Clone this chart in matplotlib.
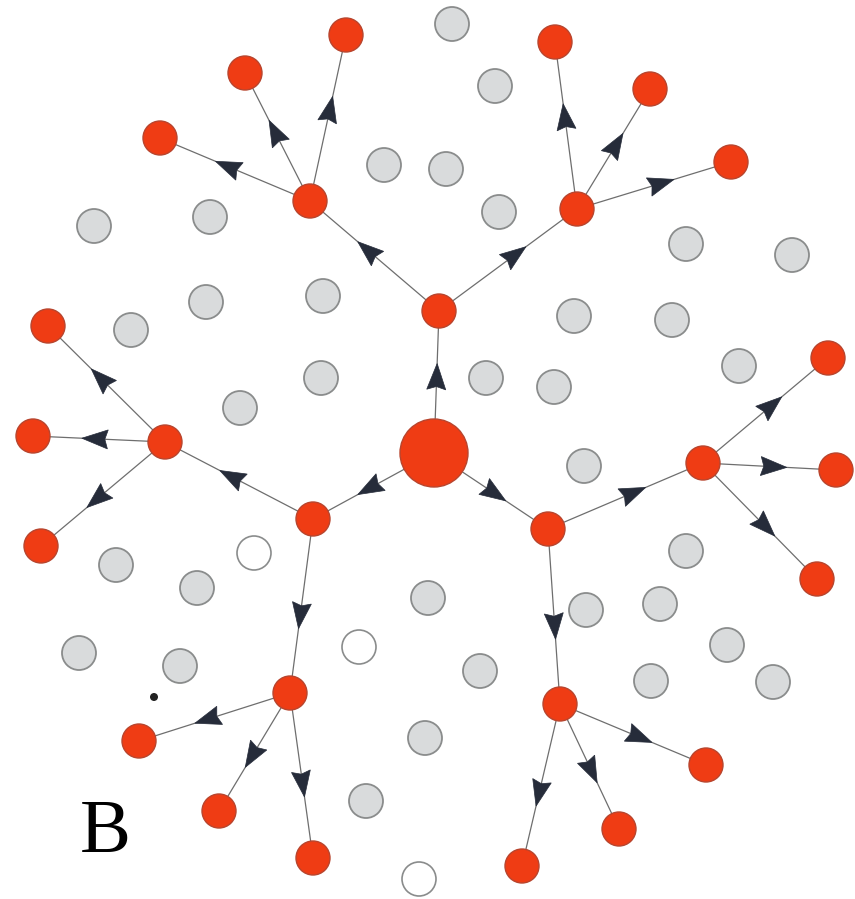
import matplotlib
matplotlib.use("Agg")
import matplotlib.pyplot as plt
from matplotlib.patches import Circle, Polygon
import numpy as np

# Node positions (image pixel coordinates, y downward)
center = (434, 453)
level1 = [(439, 311), (313, 519), (548, 529)]
level2 = [(310, 201), (577, 209), (165, 442), (290, 693), (703, 463), (560, 704)]
level2_parent = [0, 0, 1, 1, 2, 2]
leaves = [(160, 138), (245, 73), (346, 35),
          (555, 42), (650, 89), (731, 162),
          (48, 326), (33, 436), (41, 546),
          (139, 741), (219, 811), (313, 858),
          (828, 358), (836, 470), (817, 579),
          (706, 765), (619, 829), (522, 866)]
leaf_parent = [0, 0, 0, 1, 1, 1, 2, 2, 2, 3, 3, 3, 4, 4, 4, 5, 5, 5]

gray_nodes = [(452, 24), (495, 86), (384, 165), (446, 169), (499, 212), (94, 226),
              (210, 217), (686, 244), (792, 255), (206, 302), (323, 296), (131, 330),
              (574, 316), (672, 320), (321, 378), (486, 378), (554, 387), (739, 366),
              (240, 408), (584, 466), (116, 565), (197, 588), (686, 551), (428, 598),
              (586, 610), (660, 604), (79, 653), (180, 666), (480, 671), (727, 645),
              (651, 681), (773, 682), (425, 738), (366, 801)]
white_nodes = [(254, 553), (359, 647), (419, 879)]
small_dot = [(154, 697)]

W, H = 855, 899
fig = plt.figure(figsize=(W / 100, H / 100), dpi=100)
ax = fig.add_axes([0, 0, 1, 1])
ax.set_xlim(0, W)
ax.set_ylim(H, 0)
ax.set_aspect("equal")
ax.axis("off")

RED = "#ef3c14"
RED_EDGE = "#b8452e"
GRAY = "#d9dbdc"
GRAY_EDGE = "#8a8c8c"
ARROW = "#262c3a"
LINE = "#6e6e6e"

r_small = 17
r_big = 34

edges = []
for p in level1:
    edges.append((center, p))
for c, pi in zip(level2, level2_parent):
    edges.append((level1[pi], c))
for c, pi in zip(leaves, leaf_parent):
    edges.append((level2[pi], c))


def arrow_head(a, b, frac=0.63, L=26, Wd=19, notch=3):
    a = np.array(a, float)
    b = np.array(b, float)
    d = b - a
    u = d / np.linalg.norm(d)
    n = np.array([-u[1], u[0]])
    tip = a + frac * d
    base = tip - L * u
    p1 = base + n * Wd / 2
    p2 = base - n * Wd / 2
    pn = base + u * notch
    return [tip, p1, pn, p2]


for a, b in edges:
    ax.plot([a[0], b[0]], [a[1], b[1]], color=LINE, lw=0.9, zorder=1)
    ax.add_patch(Polygon(arrow_head(a, b), closed=True, facecolor=ARROW,
                         edgecolor=ARROW, lw=0.5, zorder=2))

for (x, y) in gray_nodes:
    ax.add_patch(Circle((x, y), r_small, facecolor=GRAY, edgecolor=GRAY_EDGE, lw=1.3, zorder=3))
for (x, y) in white_nodes:
    ax.add_patch(Circle((x, y), r_small, facecolor="white", edgecolor=GRAY_EDGE, lw=1.2, zorder=3))
for (x, y) in small_dot:
    ax.add_patch(Circle((x, y), 4, facecolor="#222222", edgecolor="none", zorder=3))

for (x, y) in level1 + level2 + leaves:
    ax.add_patch(Circle((x, y), r_small, facecolor=RED, edgecolor=RED_EDGE, lw=1.0, zorder=4))
ax.add_patch(Circle(center, r_big, facecolor=RED, edgecolor=RED_EDGE, lw=1.0, zorder=4))

ax.text(80, 852, "B", fontsize=55, family="Liberation Serif", color="black",
        ha="left", va="baseline")

fig.savefig("out.png", dpi=100, facecolor="white")
